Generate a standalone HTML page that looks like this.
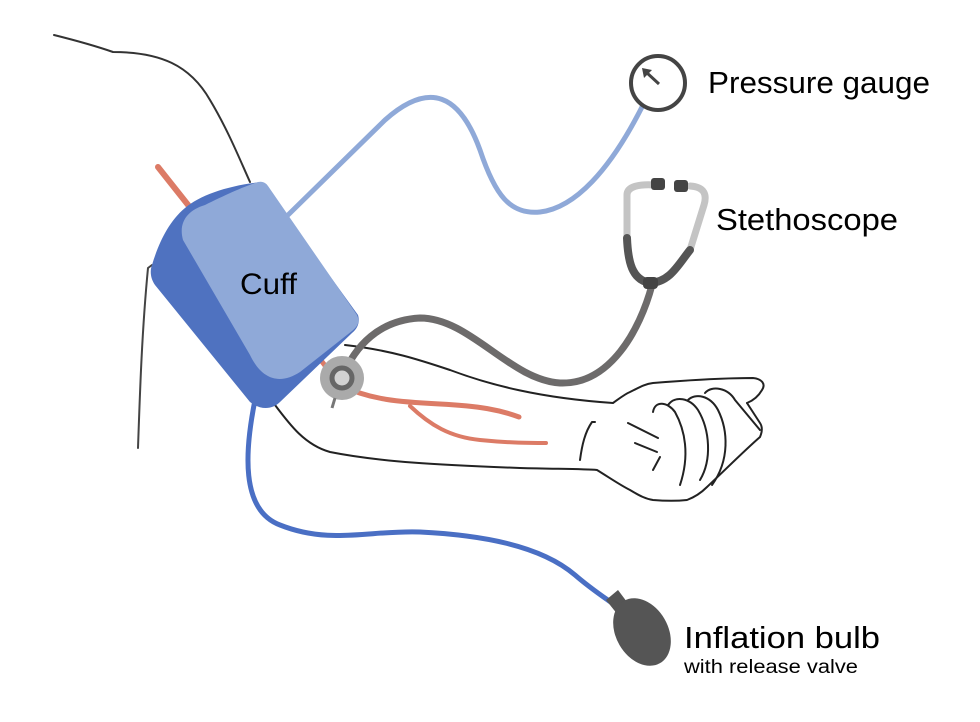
<!DOCTYPE html>
<html><head><meta charset="utf-8"><style>
html,body{margin:0;padding:0;background:#fff;}
svg{display:block;}
text{font-family:"Liberation Sans",sans-serif;fill:#000;}
</style></head><body>
<svg width="980" height="722" viewBox="0 0 980 722" xmlns="http://www.w3.org/2000/svg">
<g fill="none" stroke-linecap="round" stroke-linejoin="round">
<!-- shoulder / body -->
<path d="M54,35 Q90,44 113,52 C160,52 190,65 210,100 C228,130 240,160 250,182" stroke="#333" stroke-width="2"/>
<path d="M152,265 L148,268 C142,330 140,390 138,448" stroke="#444" stroke-width="2"/>
<!-- arteries -->
<path d="M158,167 L200,220" stroke="#dc7b66" stroke-width="6"/>
<path d="M313,350 L340,385 C370,400 400,402 440,404 C480,406 500,410 519,417" stroke="#dc7b66" stroke-width="5"/>
<path d="M410,406 C430,425 450,437 480,440 C510,443 530,443 546,443" stroke="#dc7b66" stroke-width="4"/>
<!-- arm -->
<path d="M345,345 C390,350 420,360 450,370 C490,385 540,398 613,403 C620,398 625,394 630,392 C640,387 645,384 653,383 C690,380 720,378 753,378 C762,379 766,384 762,390 C758,397 752,401 747,403" stroke="#222" stroke-width="2"/>
<path d="M275,405 C290,425 305,445 330,452 C380,462 440,465 520,468 C560,469 585,469 597,470 C610,478 620,485 630,490 C640,496 646,499 653,500 C665,501 678,501 687,500 C695,497 702,492 707,487 C725,470 745,450 760,437 C763,430 762,426 760,423 L747,403" stroke="#222" stroke-width="2"/>
<path d="M653,412 C655,400 668,402 675,412 C685,430 690,455 680,485 M668,405 C675,395 690,398 698,410 C710,430 712,460 700,480 M688,400 C695,393 710,395 718,410 C728,430 730,460 712,485 M705,393 C712,385 728,388 735,400 L760,430" stroke="#222" stroke-width="2"/>
<path d="M628,423 L658,438 M635,443 L657,452 M653,470 L660,457 M580,460 C582,445 585,432 592,422 l3,0" stroke="#222" stroke-width="2"/>
<!-- light blue tube -->
<path d="M288,215 L385,120 C430,80 460,95 480,150 C495,195 510,215 540,212 C575,208 610,170 642,107" stroke="#8fa9d8" stroke-width="5"/>
<!-- dark blue tube -->
<path d="M255,400 C245,450 240,510 280,525 C330,545 370,530 420,532 C480,535 540,545 575,575 C590,588 605,598 612,603" stroke="#4a6fc4" stroke-width="5"/>
<!-- stethoscope tubing -->
<path d="M342,378 C355,345 380,320 420,318 C470,318 510,380 560,383 C610,385 640,330 652,285" stroke="#6d6b6b" stroke-width="7"/>
</g>
<!-- cuff -->
<path d="M185,208 C200,195 230,185 262,182 L358,315 C360,322 358,328 352,333 L280,402 C272,410 260,410 250,402 L155,285 C150,278 150,270 152,265 C158,245 168,222 185,208 Z" fill="#4f72c0"/>
<path d="M183,240 C178,222 188,210 205,205 C225,195 245,186 258,182 C263,181 266,183 268,186 L357,315 C360,322 358,326 352,331 L300,372 C280,385 262,380 250,355 Z" fill="#8fa9d8"/>
<text x="240" y="294" font-size="30" textLength="57" lengthAdjust="spacingAndGlyphs">Cuff</text>
<!-- chestpiece -->
<circle cx="342" cy="378" r="22" fill="#aaa"/>
<circle cx="342" cy="378" r="10" fill="#d2d2d2" stroke="#666" stroke-width="5"/>
<path d="M335,398 L332,408" stroke="#777" stroke-width="3"/>
<!-- stethoscope headset -->
<g fill="none" stroke-linecap="round">
<path d="M627,238 L627,195 C627,186 640,184 655,185 M690,186 C705,187 707,195 704,205 L690,250" stroke="#c4c4c4" stroke-width="7"/>
<path d="M627,238 C628,262 632,280 650,283 C670,282 678,265 690,250" stroke="#555" stroke-width="8"/>
</g>
<rect x="651" y="178" width="14" height="12" rx="3" fill="#444"/>
<rect x="674" y="180" width="14" height="12" rx="3" fill="#444"/>
<rect x="643" y="277" width="15" height="12" rx="4" fill="#444"/>
<!-- gauge -->
<circle cx="658" cy="83" r="27" fill="#fff" stroke="#444" stroke-width="4"/>
<path d="M659,84 L646,72" stroke="#444" stroke-width="3"/>
<path d="M642,68 L652,70 L644,78 Z" fill="#444"/>
<!-- bulb -->
<path d="M606,600 L618,590 L630,606 L618,615 Z" fill="#555"/>
<ellipse cx="642" cy="632" rx="26" ry="36" transform="rotate(-30 642 632)" fill="#555"/>
<!-- labels -->
<text x="708" y="93" font-size="31" textLength="222" lengthAdjust="spacingAndGlyphs">Pressure gauge</text>
<text x="716" y="230" font-size="31" textLength="182" lengthAdjust="spacingAndGlyphs">Stethoscope</text>
<text x="684" y="648" font-size="31" textLength="196" lengthAdjust="spacingAndGlyphs">Inflation bulb</text>
<text x="684" y="673" font-size="19" textLength="174" lengthAdjust="spacingAndGlyphs">with release valve</text>
</svg>
</body></html>
